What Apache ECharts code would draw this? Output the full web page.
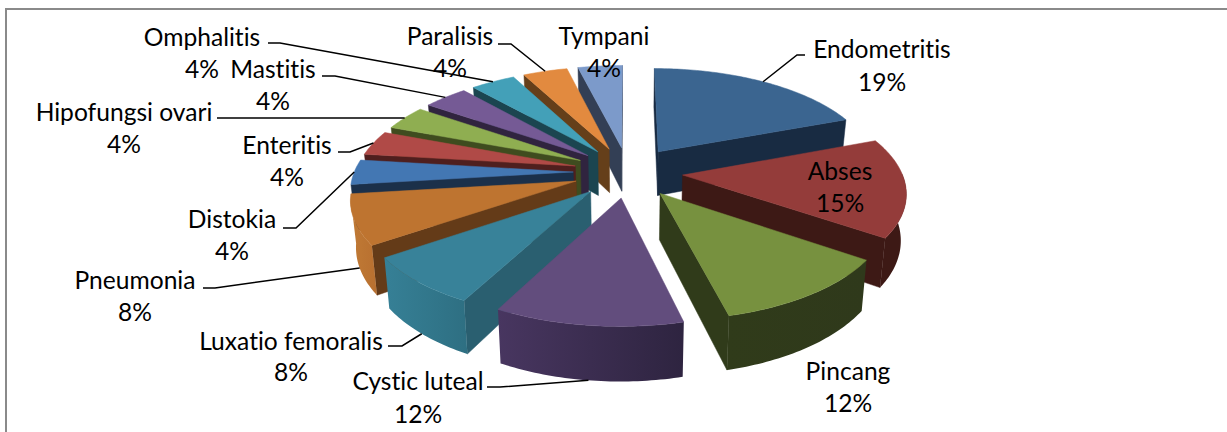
<!DOCTYPE html>
<html>
<head>
<meta charset="utf-8">
<style>html,body{margin:0;padding:0;background:#fff}#chart{width:1227px;height:432px}text{font-variant-ligatures:none !important}</style>
<script src="https://cdn.jsdelivr.net/npm/echarts@6/dist/echarts.min.js"></script>
</head>
<body>
<div id="chart"></div>
<script>
// jumlah kasus per penyakit
const names = ['Endometritis', 'Abses', 'Pincang', 'Cystic luteal', 'Luxatio femoralis', 'Pneumonia', 'Distokia', 'Enteritis', 'Hipofungsi ovari', 'Mastitis', 'Omphalitis', 'Paralisis', 'Tympani']
const cases = [5, 4, 3, 3, 2, 2, 1, 1, 1, 1, 1, 1, 1]

// warna tiap irisan
const topColors = ['#3b6590', '#943c3a', '#77913f', '#624d7d', '#388299', '#be7430', '#4377b3', '#b04a47', '#8fae51', '#755a95', '#43a0b8', '#e28a3f', '#7c9aca']
const wallColors = ['#182b42', '#3d1915', '#303b1a', '#46355e', '#2a5f70', '#643b18', '#1b304a', '#4f1f1e', '#3f4c1f', '#30243f', '#1b4550', '#653f1a', '#333f55']
const outerLeft = ['#182b42', '#3d1915', '#303b1a', '#483660', '#368096', '#c07a35', '#1b304a', '#4f1f1e', '#3f4c1f', '#30243f', '#1b4550', '#653f1a', '#333f55']
const outerRight = ['#182b42', '#3d1915', '#2f391b', '#2e2440', '#2e6f82', '#b87030', '#1b304a', '#4f1f1e', '#3f4c1f', '#30243f', '#1b4550', '#653f1a', '#333f55']

// posisi label: tengah teks, baris nama, baris persen
const labelX = [882, 840, 848, 418, 291, 135, 232, 287, 124, 273, 202, 450, 604]
const labelY = [48, 170, 370, 380, 340, 279, 218, 144, 111, 68, 36, 35, 35]
const pctY = [81, 202, 402, 413, 371, 311, 250, 176, 143, 100, 68, 67, 67]
// garis penunjuk: awal dan siku, null = tanpa garis
const leaderStart = [[805, 55], null, null, [487, 387], [388, 346], [203, 288], [283, 228], [338, 152], [217, 118], [322, 76], [268, 43], [498, 44], null]
const leaderElbow = [[797, 55], null, null, [500, 387], [402, 346], [215, 288], [296, 228], [350, 152], [229, 118], [335, 76], [280, 43], [511, 44], null]

const total = cases.reduce((a, b) => a + b, 0)
const cx = 628, cy = 172, Rx = 219, Ry = 101, persp = 0.147, explode = 0.25, depth = 45

let acc = 0
const slices = cases.map((v, i) => {
  const from = acc / total * 360
  acc += v
  const to = acc / total * 360
  return { i, from, to, mid: (from + to) / 2 }
})

function project(deg, r, mid, h) {
  const a = deg * Math.PI / 180, m = mid * Math.PI / 180
  const X = r * Math.sin(a) + explode * Math.sin(m)
  const Z = -(r * Math.cos(a) + explode * Math.cos(m))
  const w = 1 / (1 - Z * persp)
  // sisi bawah sedikit menyempit
  const shrink = 1 - 0.02 * h / depth
  return [cx + Rx * X * w * shrink, cy + Ry * Z * w + h * w]
}

// dinding terlihat kalau bagian dalam irisan ada di atas tepinya
function faces(p1, p2, inner) {
  const ex = p2[0] - p1[0], ey = p2[1] - p1[1]
  return ex * (ex * (inner[1] - p1[1]) - ey * (inner[0] - p1[0])) < 0
}

function polygon(points, fill) {
  return { type: 'polygon', shape: { points }, style: { fill, stroke: fill, lineWidth: 0.5 } }
}

function isFront(deg) {
  const a = deg * Math.PI / 180
  return Math.sin(a) > 0 ? Math.cos(a) < 0.02 : Math.cos(a) < -0.15
}

function renderSlice(params, api) {
  const s = slices[api.value(0)]
  const arc = []
  for (let d = s.from; d < s.to; d += 1) arc.push(d)
  arc.push(s.to)
  const apex = project(0, 0, s.mid, 0)
  const apexLow = project(0, 0, s.mid, depth)
  const inner = project(s.mid, 0.6, s.mid, 0)
  const children = []

  const edge = deg => {
    const p = project(deg, 1, s.mid, 0)
    if (faces(apex, p, inner)) {
      children.push(polygon([apex, p, project(deg, 1, s.mid, depth), apexLow], wallColors[s.i]))
    }
  }
  edge(s.from)
  edge(s.to)

  const front = arc.filter((d, k) => k < arc.length - 1 && isFront(d + 0.5))
  if (front.length) {
    const degs = front.concat(Math.min(s.to, front[front.length - 1] + 1))
    const upper = degs.map(d => project(d, 1, s.mid, 0))
    const lower = degs.map(d => project(d, 1, s.mid, depth)).reverse()
    children.push({
      type: 'polygon',
      shape: { points: upper.concat(lower) },
      style: {
        fill: new echarts.graphic.LinearGradient(0, 0, 1, 0, [
          { offset: 0, color: outerLeft[s.i] },
          { offset: 1, color: outerRight[s.i] }
        ])
      }
    })
  }

  const top = [apex].concat(arc.map(d => project(d, 1, s.mid, 0)))
  children.push(polygon(top, topColors[s.i]))
  return { type: 'group', children }
}

function renderLabel(params, api) {
  const i = api.value(0)
  const s = slices[i]
  const children = []
  const font = '24.6px Lato, sans-serif'
  if (leaderStart[i]) {
    const front = Math.cos(s.mid * Math.PI / 180) < -0.3
    const end = project(s.mid, 1, s.mid, front ? depth : 0)
    children.push({
      type: 'polyline',
      shape: { points: [leaderStart[i], leaderElbow[i], end] },
      style: { fill: 'none', stroke: '#000', lineWidth: 1.5 }
    })
  }
  children.push({
    type: 'text',
    style: { x: labelX[i], y: labelY[i], text: names[i], font, fill: '#000', align: 'center', verticalAlign: 'middle' }
  })
  children.push({
    type: 'text',
    style: { x: labelX[i], y: pctY[i], text: Math.round(cases[i] / total * 100) + '%', font, fill: '#000', align: 'center', verticalAlign: 'middle' }
  })
  return { type: 'group', children }
}

// irisan jauh digambar lebih dulu
const drawOrder = slices.slice().sort((a, b) => Math.cos(b.mid * Math.PI / 180) - Math.cos(a.mid * Math.PI / 180)).map(s => [s.i])

const chart = echarts.init(document.getElementById('chart'), null, { renderer: 'svg' })
chart.setOption({
  animation: false,
  backgroundColor: '#fff',
  graphic: [{
    type: 'rect',
    shape: { x: 6, y: 9, width: 1240, height: 440 },
    style: { fill: 'none', stroke: '#8a8a8a', lineWidth: 2 },
    silent: true
  }],
  series: [
    { type: 'custom', coordinateSystem: 'none', silent: true, data: drawOrder, renderItem: renderSlice, z: 2 },
    { type: 'custom', coordinateSystem: 'none', silent: true, data: names.map((n, i) => [i]), renderItem: renderLabel, z: 3 }
  ]
})
window.addEventListener('resize', () => chart.resize())
</script>
</body>
</html>
